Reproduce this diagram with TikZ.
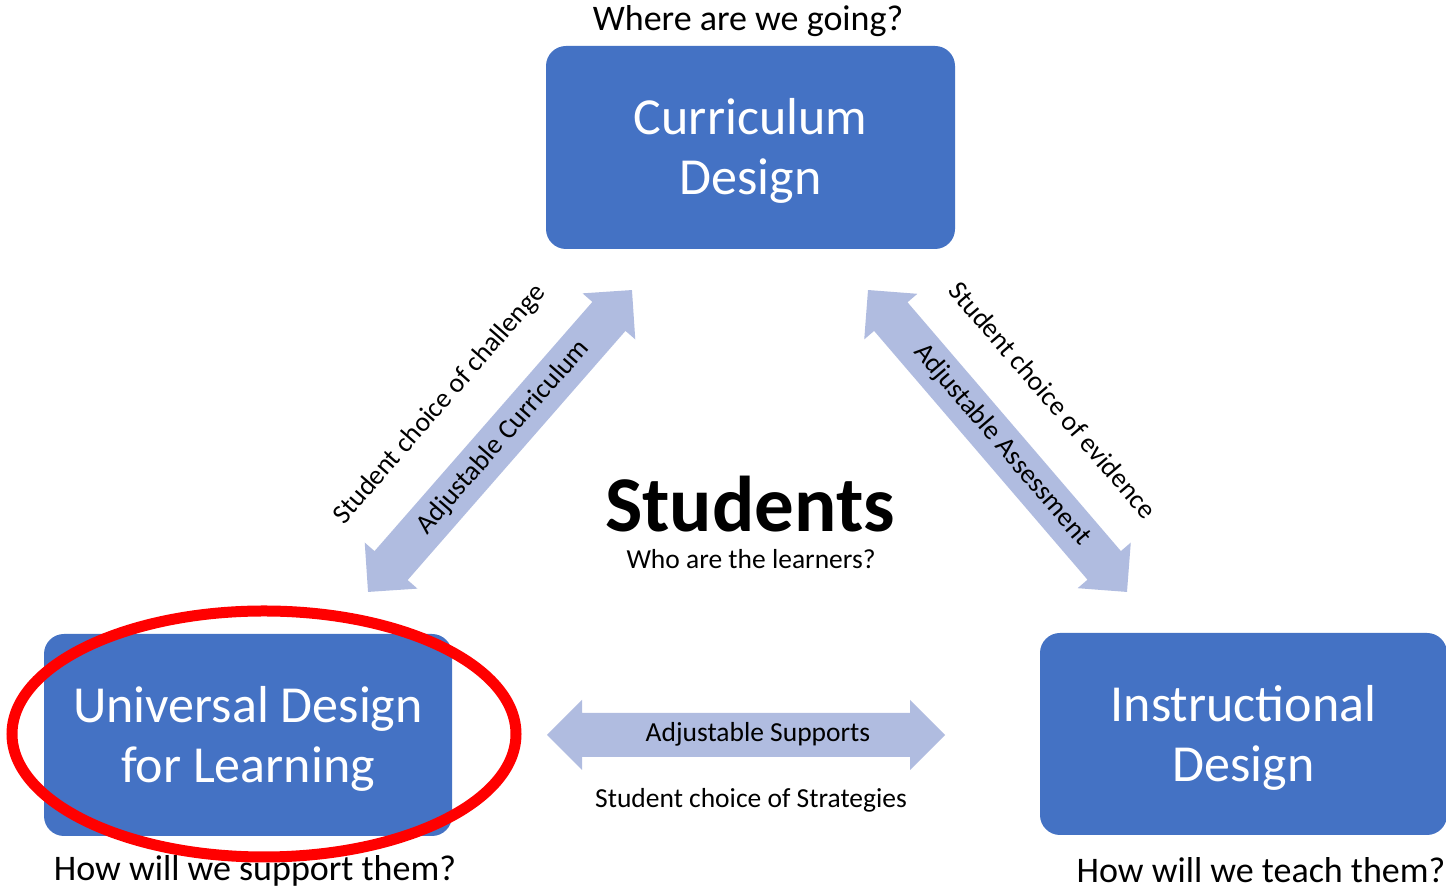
\documentclass[tikz,border=0pt]{standalone}
\usepackage{fontspec}
\setmainfont{Carlito}
\definecolor{boxblue}{HTML}{4472C4}
\definecolor{arrowblue}{HTML}{B0BCE0}
\definecolor{ringred}{HTML}{FF0000}
\newcommand{\twoheadshape}[1]{(-#1,0) -- (-#1+35,35) -- (-#1+35,22) -- (#1-35,22) -- (#1-35,35) -- (#1,0) -- (#1-35,-35) -- (#1-35,-22) -- (-#1+35,-22) -- (-#1+35,-35) -- cycle}
\begin{document}
\begin{tikzpicture}[x=1pt,y=1pt,
  designbox/.style={fill=boxblue, rounded corners=20pt, inner sep=0pt,
    minimum width=408pt, minimum height=202pt, text=white,
    font=\fontsize{52}{60}\selectfont, align=center},
  qtext/.style={font=\fontsize{36}{43}\selectfont, inner sep=0pt, anchor=base},
  labeltext/.style={font=\fontsize{27.5}{33}\selectfont, inner sep=0pt},
  arrowfill/.style={fill=arrowblue}]
\useasboundingbox (0,0) rectangle (1446,890);
\fill[white] (0,0) rectangle (1446,890);

% boxes
\node[designbox, minimum width=409pt, minimum height=203pt] (cd) at (750.5,742.5)
  {\rule{0pt}{47pt}Curriculum\\Design\rule[-12pt]{0pt}{12pt}};
\node[designbox] (udl) at (248,155)
  {\rule{0pt}{47pt}Universal Design\\for Learning\rule[-12pt]{0pt}{12pt}};
\node[designbox, minimum width=407pt] (id) at (1243.5,156)
  {\rule{0pt}{47pt}Instructional\\Design\rule[-12pt]{0pt}{12pt}};

% questions
\node[qtext] (wq) at (748,859) {Where are we going?};
\node[qtext] (hs) at (255,9) {How will we support them?};
\node[qtext] (ht) at (1261,7) {How will we teach them?};

% centre
\node[font=\fontsize{79}{90}\selectfont\bfseries, inner sep=0pt, anchor=base] (st) at (750,358) {Students};
\node[font=\fontsize{27.5}{33}\selectfont, inner sep=0pt, anchor=base] (wl) at (751,321) {Who are the learners?};

% left diagonal arrow
\begin{scope}[shift={(500,449)}, rotate=48.84]
  \fill[arrowfill] \twoheadshape{200.5};
  \node[labeltext, transform shape] (ac) at (5,0) {Adjustable Curriculum};
  \node[labeltext, transform shape] (sc) at (-12,69) {Student choice of challenge};
\end{scope}

% right diagonal arrow
\begin{scope}[shift={(997.5,449)}, rotate=-49.38]
  \fill[arrowfill] \twoheadshape{198.9};
  \node[labeltext, transform shape] (aa) at (6,1) {Adjustable Assessment};
  \node[labeltext, transform shape] (se) at (5,69) {Student choice of evidence};
\end{scope}

% horizontal arrow
\begin{scope}[shift={(746,155)}]
  \fill[arrowfill] \twoheadshape{199};
\end{scope}
\node[labeltext, anchor=base] (as) at (758,148) {Adjustable Supports};
\node[labeltext, anchor=base] (ss) at (751,82) {Student choice of Strategies};

% red highlight ring
\draw[ringred, line width=11pt] (264,156) ellipse [x radius=252pt, y radius=123pt];
\end{tikzpicture}
\end{document}
